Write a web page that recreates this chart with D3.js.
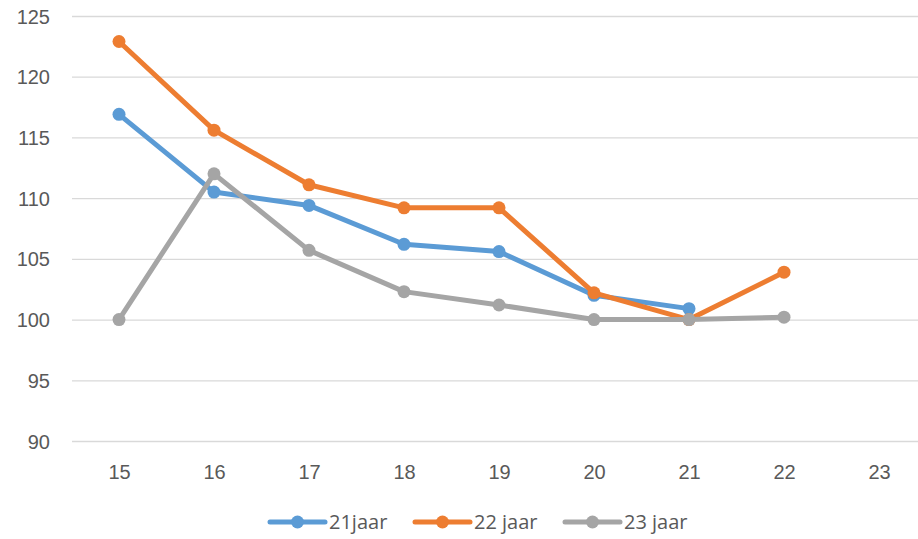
<!DOCTYPE html>
<html>
<head>
<meta charset="utf-8">
<script src="https://cdn.jsdelivr.net/npm/d3@7"></script>
<style>
  body { margin: 0; background: #fff; }
  #chart { width: 918px; height: 539px; }
</style>
</head>
<body>
<div id="chart"></div>
<script>
// Data
const ages = [15, 16, 17, 18, 19, 20, 21, 22, 23];
const yTicks = [90, 95, 100, 105, 110, 115, 120, 125];
const seriesNames = ["21jaar", "22 jaar", "23 jaar"];
const seriesColors = ["#5B9BD5", "#ED7D31", "#A5A5A5"];
const jaar21 = [116.9, 110.5, 109.4, 106.2, 105.6, 102.0, 100.9, null, null];
const jaar22 = [122.9, 115.6, 111.1, 109.2, 109.2, 102.2, 100.0, 103.9, null];
const jaar23 = [100.0, 112.0, 105.7, 102.3, 101.2, 100.0, 100.0, 100.2, null];

function drawChart() {
    const W = 918, H = 539;
    const plot = { left: 72, right: 918, top: 16, bottom: 441 };

    const svg = d3.select("#chart")
        .append("svg")
        .attr("width", W)
        .attr("height", H)
        .style("font-family", "'Open Sans', 'Noto Sans', sans-serif");

    // category axis: 9 slots of 95px, last slot runs past the right edge
    const x = d3.scalePoint()
        .domain(ages)
        .range([71.5, 926.5])
        .padding(0.5);

    const y = d3.scaleLinear()
        .domain([90, 125])
        .range([plot.bottom, plot.top]);

    // Gridlines
    svg.append("g")
        .attr("transform", `translate(${plot.left},0)`)
        .call(d3.axisLeft(y).tickValues(yTicks).tickSize(-(plot.right - plot.left)).tickFormat(""))
        .call(g => g.select(".domain").remove())
        .call(g => g.selectAll("line").attr("stroke", "#D9D9D9").attr("stroke-width", 1.3));

    // Y labels
    svg.append("g")
        .attr("transform", `translate(50,0)`)
        .call(d3.axisLeft(y).tickValues(yTicks).tickSize(0).tickPadding(0))
        .call(g => g.select(".domain").remove())
        .call(g => g.selectAll("text")
            .attr("fill", "#595959")
            .style("font-size", "20px")
            .attr("dy", "0.35em"));

    // X labels
    svg.append("g")
        .attr("transform", `translate(0,${plot.bottom})`)
        .call(d3.axisBottom(x).tickSize(0).tickPadding(0))
        .call(g => g.select(".domain").remove())
        .call(g => g.selectAll("text")
            .attr("fill", "#595959")
            .style("font-size", "20px")
            .attr("y", 31)
            .attr("dy", "0.35em"));

    const allSeries = [jaar21, jaar22, jaar23];

    const line = d3.line()
        .defined(d => d.v !== null)
        .x(d => x(d.age))
        .y(d => y(d.v));

    allSeries.forEach((vals, i) => {
        const pts = vals.map((v, j) => ({ age: ages[j], v }));
        const g = svg.append("g");
        g.append("path")
            .datum(pts)
            .attr("fill", "none")
            .attr("stroke", seriesColors[i])
            .attr("stroke-width", 5)
            .attr("stroke-linejoin", "round")
            .attr("d", line);
        g.selectAll("circle")
            .data(pts.filter(d => d.v !== null))
            .enter().append("circle")
            .attr("cx", d => x(d.age))
            .attr("cy", d => y(d.v))
            .attr("r", 6.5)
            .attr("fill", seriesColors[i]);
    });

    // Legend
    const legendX = [270, 415, 565];
    const legendY = 522;
    seriesNames.forEach((name, i) => {
        const g = svg.append("g")
            .attr("transform", `translate(${legendX[i]},${legendY})`);
        g.append("line")
            .attr("x1", 0).attr("x2", 55)
            .attr("y1", 0).attr("y2", 0)
            .attr("stroke", seriesColors[i])
            .attr("stroke-width", 5)
            .attr("stroke-linecap", "round");
        g.append("circle")
            .attr("cx", 27.5).attr("cy", 0)
            .attr("r", 6.5)
            .attr("fill", seriesColors[i]);
        g.append("text")
            .attr("x", 59)
            .attr("y", 0)
            .attr("dy", "0.35em")
            .attr("fill", "#595959")
            .style("font-size", "20px")
            .text(name);
    });
}

drawChart();
</script>
</body>
</html>
